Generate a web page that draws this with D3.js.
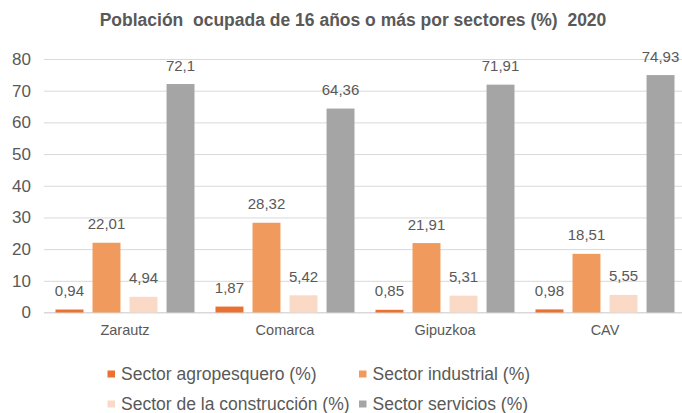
<!DOCTYPE html>
<html><head><meta charset="utf-8">
<script src="https://cdn.jsdelivr.net/npm/d3@7"></script>
<style>body{margin:0;background:#fff}svg{display:block;font-family:"Liberation Sans",Arial,sans-serif}</style>
</head><body><svg id="c" width="682" height="413"></svg>
<script>
const categories = ["Zarautz","Comarca","Gipuzkoa","CAV"];
const seriesNames = ["Sector agropesquero (%)","Sector industrial (%)","Sector de la construcción (%)","Sector servicios (%)"];
const agro = [0.94,1.87,0.85,0.98];
const industrial = [22.01,28.32,21.91,18.51];
const construccion = [4.94,5.42,5.31,5.55];
const servicios = [72.1,64.36,71.91,74.93];
const labels = [["0,94","1,87","0,85","0,98"],["22,01","28,32","21,91","18,51"],["4,94","5,42","5,31","5,55"],["72,1","64,36","71,91","74,93"]];
const yTicks = [0,10,20,30,40,50,60,70,80];
const colors = ["#E97132","#F19A5E","#FAD9C6","#A5A5A5"];
const series = [agro,industrial,construccion,servicios];

const svg = d3.select("#c");
const x = d3.scaleBand().domain(categories).range([45,685]).paddingInner(0).paddingOuter(0);
const x1 = d3.scaleBand().domain(d3.range(4)).range([10.5,149.5]).paddingInner(0.245).paddingOuter(0);
const y = d3.scaleLinear().domain([0,80]).range([312.5,59]);

svg.append("text").attr("x",353).attr("y",26).attr("text-anchor","middle")
  .attr("font-size",17.5).attr("font-weight","bold").attr("fill","#595959")
  .attr("xml:space","preserve").text("Población  ocupada de 16 años o más por sectores (%)  2020");

const yAxis = svg.append("g").attr("transform","translate(44,0)")
  .call(d3.axisLeft(y).tickValues(yTicks).tickSize(-640).tickPadding(13).tickFormat(d3.format("d")));
yAxis.select(".domain").remove();
yAxis.selectAll("line").attr("stroke","#D9D9D9");
yAxis.selectAll("text").attr("font-size",17).attr("fill","#595959").attr("font-family","Liberation Sans, Arial, sans-serif");

const xAxis = svg.append("g").attr("transform","translate(0,312.5)")
  .call(d3.axisBottom(x).tickSize(0).tickPadding(12));
xAxis.select(".domain").attr("stroke","#D9D9D9").attr("d","M44,0H682");
xAxis.selectAll("text").attr("font-size",14.5).attr("fill","#595959").attr("font-family","Liberation Sans, Arial, sans-serif");

series.forEach((vals,s)=>{
  const g = svg.append("g");
  g.selectAll("rect").data(vals).join("rect")
    .attr("x",(d,i)=>x(categories[i])+x1(s)).attr("width",x1.bandwidth())
    .attr("y",d=>y(d)).attr("height",d=>y(0)-y(d)).attr("fill",colors[s]);
  g.selectAll("text").data(vals).join("text")
    .attr("x",(d,i)=>x(categories[i])+x1(s)+x1.bandwidth()/2)
    .attr("y",d=>y(d)-13.5).attr("text-anchor","middle").attr("font-size",15).attr("fill","#595959")
    .text((d,i)=>labels[s][i]);
});

const legPos = [[107.5,380],[359,380],[107.5,410],[359,410]];
seriesNames.forEach((n,i)=>{
  const [lx,ly] = legPos[i];
  svg.append("rect").attr("x",lx).attr("y",ly-9.5).attr("width",7.5).attr("height",7).attr("fill",colors[i]);
  svg.append("text").attr("x",lx+13.5).attr("y",ly).attr("font-size",17.5).attr("fill","#595959").text(n);
});
</script></body></html>
